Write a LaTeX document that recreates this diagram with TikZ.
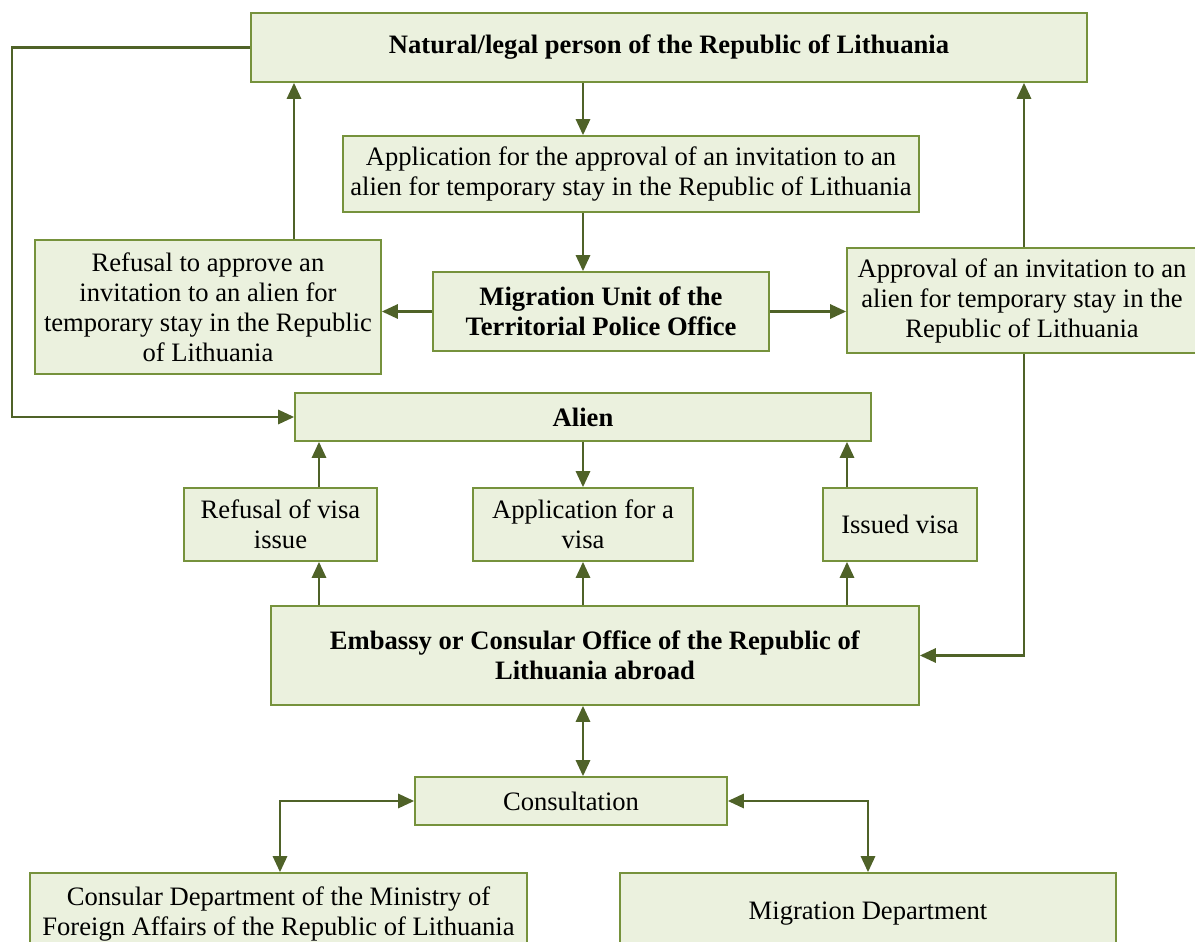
\documentclass[tikz,border=0pt]{standalone}
\usepackage{fontspec}
\setmainfont{Liberation Serif}
\usetikzlibrary{arrows.meta}
\definecolor{boxfill}{HTML}{EBF1DE}
\definecolor{boxline}{HTML}{76923C}
\definecolor{arrowline}{HTML}{4F6228}
\begin{document}
\begin{tikzpicture}[x=0.5pt,y=-0.5pt,>={Triangle[length=8pt,width=7pt]},
    box/.style={draw=boxline,fill=boxfill,line width=0.8pt,align=center,inner sep=0pt,
                font=\fontsize{13.3}{15}\selectfont},
    link/.style={->,draw=arrowline,line width=1.4pt},
    both/.style={<->,draw=arrowline,line width=1.4pt}]

    \useasboundingbox (0,0) rectangle (1195,942);
    \clip (0,0) rectangle (1195,942);

    % boxes
    \node[box,minimum width=418pt,minimum height=34.5pt] (nat) at (669,47.5)
        {\textbf{Natural/legal person of the Republic of Lithuania}};
    \node[box,minimum width=288pt,minimum height=38pt] (app) at (631,174)
        {Application for the approval of an invitation to an\\alien for temporary stay in the Republic of Lithuania};
    \node[box,minimum width=173pt,minimum height=67pt] (refinv) at (208,307)
        {Refusal to approve an\\invitation to an alien for\\temporary stay in the Republic\\of Lithuania};
    \node[box,minimum width=168pt,minimum height=39.5pt] (mig) at (601,311.5)
        {\textbf{Migration Unit of the}\\\textbf{Territorial Police Office}};
    \node[box,minimum width=175pt,minimum height=52.5pt] (appr) at (1022,300.5)
        {Approval of an invitation to an\\alien for temporary stay in the\\Republic of Lithuania};
    \node[box,minimum width=288pt,minimum height=24pt] (alien) at (583,417)
        {\textbf{Alien}};
    \node[box,minimum width=96.5pt,minimum height=36.5pt] (refvisa) at (280.5,524.5)
        {Refusal of visa\\issue};
    \node[box,minimum width=110pt,minimum height=36.5pt] (appvisa) at (583,524.5)
        {Application for a\\visa};
    \node[box,minimum width=77pt,minimum height=36.5pt] (issued) at (900,524.5)
        {Issued visa};
    \node[box,minimum width=324pt,minimum height=49.5pt] (emb) at (595,655.5)
        {\textbf{Embassy or Consular Office of the Republic of}\\\textbf{Lithuania abroad}};
    \node[box,minimum width=156pt,minimum height=24pt] (cons) at (571,801)
        {Consultation};
    \node[box,minimum width=248.5pt,minimum height=41pt] (consdep) at (278.5,914)
        {Consular Department of the Ministry of\\Foreign Affairs of the Republic of Lithuania};
    \node[box,minimum width=248pt,minimum height=41pt] (migdep) at (868,914)
        {Migration Department};

    % columns for the connectors
    \coordinate (cmain) at (583,0);
    \coordinate (cleft) at (12,0);
    \coordinate (crefinv) at (294,0);
    \coordinate (cappr) at (1024,0);
    \coordinate (crefvisa) at (319,0);
    \coordinate (cissued) at (847,0);
    \coordinate (cconsdep) at (280,0);

    % connectors
    \draw[link] (nat.south -| cmain) -- (app.north -| cmain);
    \draw[link] (app.south -| cmain) -- (mig.north -| cmain);
    \draw[link] (mig.west) -- (refinv.east |- mig.west);
    \draw[link] (mig.east) -- (appr.west |- mig.east);
    \draw[link] (refinv.north -| crefinv) -- (nat.south -| crefinv);
    \draw[link] (appr.north -| cappr) -- (nat.south -| cappr);
    \draw[link] (nat.west) -- (nat.west -| cleft) -- (alien.west -| cleft) -- (alien.west);
    \draw[link] (alien.south -| cmain) -- (appvisa.north -| cmain);
    \draw[link] (refvisa.north -| crefvisa) -- (alien.south -| crefvisa);
    \draw[link] (issued.north -| cissued) -- (alien.south -| cissued);
    \draw[link] (emb.north -| crefvisa) -- (refvisa.south -| crefvisa);
    \draw[link] (emb.north -| cmain) -- (appvisa.south -| cmain);
    \draw[link] (emb.north -| cissued) -- (issued.south -| cissued);
    \draw[link] (appr.south -| cappr) -- (emb.east -| cappr) -- (emb.east);
    \draw[both] (emb.south -| cmain) -- (cons.north -| cmain);
    \draw[both] (cons.west) -- (cons.west -| cconsdep) -- (consdep.north -| cconsdep);
    \draw[both] (cons.east) -| (migdep.north);

\end{tikzpicture}
\end{document}
